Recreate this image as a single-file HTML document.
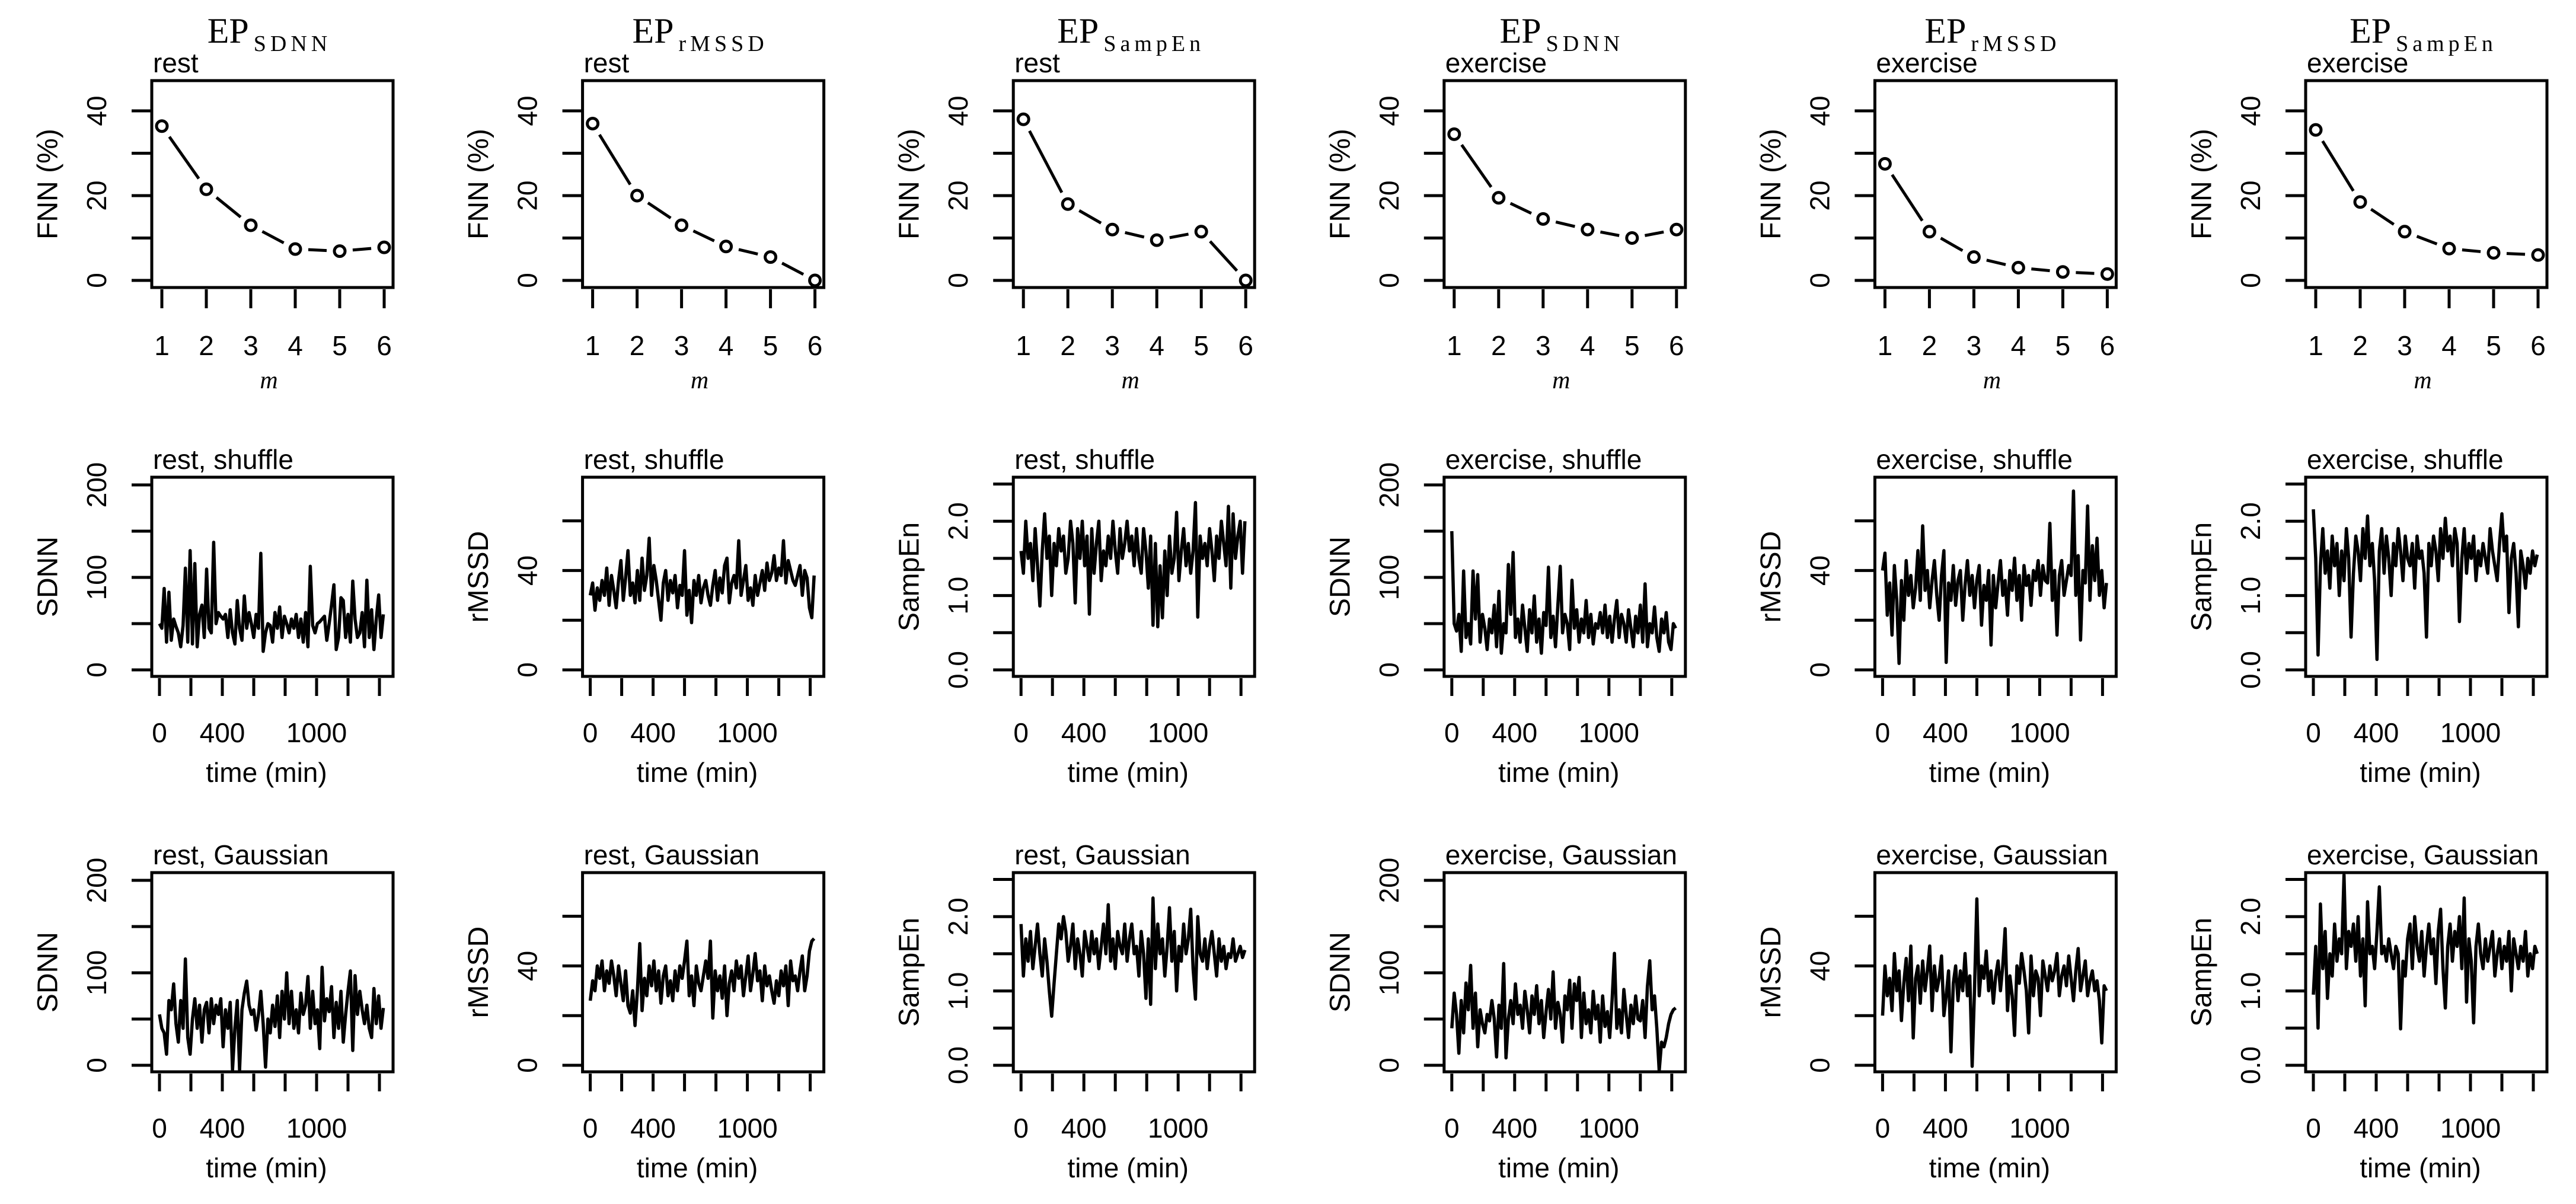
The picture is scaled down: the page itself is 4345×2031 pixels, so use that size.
<!DOCTYPE html>
<html><head><meta charset="utf-8"><title>FNN and surrogate time series</title>
<style>html,body{margin:0;padding:0;background:#fff}svg{display:block}text{font-family:"Liberation Sans",sans-serif;fill:#000}</style>
</head><body>
<svg id="fig" width="4345" height="2031" viewBox="0 0 4345 2031" xmlns="http://www.w3.org/2000/svg"></svg>
<script>
// ---- data ----
const titles = ["SDNN","rMSSD","SampEn","SDNN","rMSSD","SampEn"];
const states = ["rest","rest","rest","exercise","exercise","exercise"];
const mValues = [1,2,3,4,5,6];
const fnn0 = [36.4,21.5,13.0,7.4,6.9,7.8];
const fnn1 = [37,20,13,8,5.5,0];
const fnn2 = [38,18,12,9.5,11.5,0];
const fnn3 = [34.5,19.5,14.5,12,10,12];
const fnn4 = [27.5,11.5,5.5,3,2,1.5];
const fnn5 = [35.5,18.5,11.5,7.5,6.5,6];
const fnnTicks = [0,10,20,30,40];
const fnnLabels = ["0","","20","","40"];
const timeTicks = [0,200,400,600,800,1000,1200,1400];
const timeLabels = ["0","","400","","","1000","",""];
const timeStep = 15;
const sdnnTicks = [0,50,100,150,200], sdnnLabels = ["0","","100","","200"];
const rmssdTicks = [0,20,40,60], rmssdLabels = ["0","","40",""];
const sampTicks = [0,0.5,1,1.5,2,2.5], sampLabels = ["0.0","","1.0","","2.0",""];

const shufSdnnRest = [50,45,88,30,84,32,55,47,40,25,48,110,30,129,28,115,25,60,70,35,109,45,40,138,50,62,58,55,60,35,65,40,28,75,45,32,80,45,62,50,35,60,45,126,20,40,50,48,30,62,45,68,35,58,50,40,55,45,60,35,55,30,62,25,112,48,40,50,52,55,58,32,50,70,92,22,35,78,75,35,60,30,96,55,35,40,62,25,97,35,65,22,55,81,35,60];
const shufRmssdRest = [30,35,24,33,28,36,30,41,26,38,32,25,36,44,28,37,48,30,35,27,40,28,45,32,38,53,30,42,36,28,20,35,40,28,36,31,38,25,34,30,48,22,32,19,36,30,38,27,33,36,30,26,34,40,28,37,31,42,45,27,35,38,33,52,30,36,42,28,33,26,38,30,35,40,32,43,36,39,46,36,41,38,52,35,44,40,36,34,38,42,30,40,37,25,21,38];
const shufSampRest = [1.6,1.3,2.0,1.5,1.7,1.2,1.9,1.4,0.86,1.6,2.1,1.5,1.8,1.0,1.7,1.4,1.9,1.6,1.8,1.3,1.5,2.0,1.7,0.9,1.9,1.5,2.0,1.4,1.8,0.75,1.9,1.3,1.7,2.0,1.2,1.6,1.4,1.8,1.5,2.0,1.6,1.3,1.9,1.5,1.7,2.0,1.6,1.8,1.4,1.9,1.5,1.3,1.9,1.6,1.1,1.8,0.6,1.7,0.58,1.4,0.7,1.6,1.0,1.8,1.3,1.5,2.12,1.2,1.6,1.9,1.4,1.7,1.3,1.6,2.25,0.71,1.8,1.5,1.7,1.4,1.9,1.6,1.2,1.8,1.5,2.0,1.7,1.4,2.2,1.1,2.1,1.5,1.8,2.0,1.3,2.0];
const shufSdnnEx = [150,50,42,60,20,107,35,50,28,107,55,103,30,60,45,22,55,40,70,25,85,18,50,40,114,60,127,35,55,30,70,45,20,65,40,80,30,55,18,62,48,111,35,58,25,70,112,40,60,50,22,97,45,65,30,55,40,75,35,60,28,50,45,62,40,70,35,58,30,55,75,35,60,50,30,65,45,25,58,40,70,30,93,25,50,40,68,35,20,55,40,62,30,22,50,45];
const shufRmssdEx = [40,47,22,35,14,42,28,2.6,36,20,44,30,38,25,33,48,28,58,32,40,25,36,44,30,20,38,48,3,35,28,42,26,36,40,20,34,44,30,38,25,36,42,18,34,28,40,10,38,25,35,44,30,36,22,40,32,45,28,38,20,42,34,38,26,40,36,44,30,42,36,35,59,28,40,14,38,44,30,36,42,38,72,30,46,12,40,35,66,28,50,36,53,30,40,25,35];
const shufSampEx = [2.16,1.5,0.2,1.4,1.9,1.3,1.6,1.1,1.8,1.4,1.7,1.0,1.6,1.2,1.9,1.5,0.44,1.3,1.8,1.6,1.2,1.9,1.5,2.07,1.4,1.7,1.2,0.14,1.6,1.9,1.3,1.8,1.5,1.0,1.7,1.4,1.9,1.6,1.2,1.8,1.5,1.4,1.7,1.1,1.8,1.5,1.6,1.3,0.44,1.7,1.4,1.8,1.6,1.2,1.9,1.5,2.04,1.6,1.8,1.4,1.9,1.7,0.65,1.5,1.9,1.3,1.7,1.5,1.8,1.2,1.6,1.4,1.7,1.5,1.3,1.9,1.6,1.4,1.2,1.7,2.1,1.6,1.8,0.77,1.5,1.7,1.3,0.58,1.6,1.4,1.1,1.5,1.3,1.6,1.4,1.55];
const gausSdnnRest = [55,40,35,12,70,60,88,45,25,70,40,115,30,12,50,72,40,65,25,60,68,35,72,45,65,55,72,20,60,40,68,-5,40,70,-5,60,78,91,65,55,60,38,55,80,45,-2,50,35,65,42,75,30,80,50,100,45,80,40,60,35,78,55,65,96,40,80,45,60,18,106,48,72,58,85,30,68,40,80,25,55,80,102,16,97,55,80,60,45,65,40,30,83,45,75,40,62];
const gausRmssdRest = [26,34,30,40,35,42,30,38,33,42,36,28,40,33,26,38,24,21,30,16,30,49,22,35,28,40,32,42,30,38,25,36,40,28,34,26,38,30,40,35,42,50,28,36,24,40,33,30,36,42,35,50,19,38,30,36,27,40,20,33,38,30,42,35,40,28,36,44,30,37,45,34,38,26,40,32,36,30,25,34,28,38,32,40,24,42,34,36,30,38,44,30,36,46,50,51];
const gausSampRest = [1.9,1.2,1.7,1.4,1.8,1.3,1.6,1.9,1.5,1.2,1.7,1.4,1.0,0.66,1.1,1.5,1.9,1.7,2.0,1.8,1.4,1.6,1.9,1.3,1.7,1.5,1.2,1.8,1.6,1.4,1.8,1.5,1.7,1.3,1.6,1.9,1.5,2.16,1.4,1.7,1.3,1.8,1.6,1.5,1.9,1.4,1.7,1.9,1.5,1.6,1.2,1.8,1.5,0.9,1.7,0.82,2.25,1.3,1.9,1.5,1.7,1.2,1.6,2.12,1.4,1.8,1.0,1.6,1.4,1.9,1.5,1.7,2.1,1.3,0.89,2.0,1.5,1.4,1.7,1.3,1.6,1.8,1.5,1.2,1.7,1.4,1.6,1.3,1.5,1.45,1.7,1.4,1.5,1.6,1.45,1.55];
const gausSdnnEx = [40,78,55,13,70,35,89,60,108,40,78,20,60,45,35,55,48,70,50,9,65,40,110,8,50,70,45,88,55,65,40,80,60,35,75,55,86,45,70,30,58,82,50,101,40,68,55,25,75,60,92,40,88,70,95,30,78,45,60,35,80,50,65,25,75,42,58,30,70,121,40,60,35,82,55,30,65,45,75,50,48,70,30,85,113,60,75,40,-6,25,20,30,45,55,60,62];
const gausRmssdEx = [20,40,28,35,22,45,30,38,18,33,43,26,48,11,35,40,25,42,30,38,48,22,40,30,35,44,20,28,38,5.4,33,40,26,38,30,45,28,36,-0.4,30,67,28,40,35,46,30,38,25,36,42,30,40,55,22,36,28,12,40,33,45,38,30,13,44,28,38,35,20,42,36,30,40,34,38,45,28,36,40,32,44,35,26,38,47,30,36,42,28,34,38,30,34,26,9,32,30];
const gausSampEx = [0.95,1.6,0.5,2.17,1.3,1.8,0.9,1.5,1.2,1.9,1.4,1.7,1.5,2.56,1.3,1.8,1.6,1.9,1.4,2.0,1.2,1.7,0.8,2.2,1.5,1.6,1.3,1.8,2.4,1.5,1.6,1.4,1.7,1.5,1.3,1.6,1.5,0.49,1.4,1.2,1.7,1.9,1.3,2.0,1.6,1.4,1.8,1.2,1.6,1.9,1.5,1.7,1.1,1.8,2.1,1.3,0.77,1.6,1.9,1.4,1.8,1.6,2.0,1.3,2.25,0.85,1.7,1.4,0.57,1.6,1.9,1.5,1.3,1.7,1.4,1.6,1.8,1.2,1.5,1.7,1.3,1.6,1.4,1.8,1.0,1.7,1.5,1.3,1.6,1.4,1.8,1.2,1.5,1.3,1.6,1.5];

// ---- layout ----
const NS = "http://www.w3.org/2000/svg";
const svg = document.getElementById("fig");
const colLeft = c => 256 + c * 726.6;
const BW = 407;
const rowTop = [136, 805, 1472];
const rowBot = [485, 1141, 1808];
function mk(tag, attrs, parent) {
  const e = document.createElementNS(NS, tag);
  for (const k in attrs) e.setAttribute(k, attrs[k]);
  (parent || svg).appendChild(e);
  return e;
}
function txt(s, attrs, parent) { const t = mk("text", attrs, parent); t.textContent = s; return t; }

const fnnSeries = [fnn0, fnn1, fnn2, fnn3, fnn4, fnn5];
const shufSeries = [shufSdnnRest, shufRmssdRest, shufSampRest, shufSdnnEx, shufRmssdEx, shufSampEx];
const gausSeries = [gausSdnnRest, gausRmssdRest, gausSampRest, gausSdnnEx, gausRmssdEx, gausSampEx];
const axisInfo = {
  SDNN: {ticks: sdnnTicks, labels: sdnnLabels, scale: 1.56, lab: "SDNN"},
  rMSSD: {ticks: rmssdTicks, labels: rmssdLabels, scale: 4.19, lab: "rMSSD"},
  SampEn: {ticks: sampTicks, labels: sampLabels, scale: 125.4, lab: "SampEn"}
};

function yTicks(g, L, ticks, labels, yf) {
  ticks.forEach((t, i) => {
    const y = yf(t);
    const tk = mk("line", {x1: L - 34, x2: L, y1: y, y2: y, stroke: "#000", "stroke-width": 5}, g);
    
    
    if (labels[i]) {
      const tl = txt(labels[i], {x: 0, y: 0, "font-size": 46, "text-anchor": "middle", "dominant-baseline": "central", transform: `translate(${L - 93},${y}) rotate(-90)`}, g);
      
      
    }
  });
}
function box(g, L, top, bot) {
  const b = mk("rect", {x: L, y: top, width: BW, height: bot - top, fill: "none", stroke: "#000", "stroke-width": 5}, g);
  
  
}
function yTitle(g, L, top, bot, s) {
  const t = txt(s, {x: 0, y: 0, "font-size": 48, "text-anchor": "middle", "dominant-baseline": "central", transform: `translate(${L - 175},${(top + bot) / 2}) rotate(-90)`}, g);
  
  
}
function subtitle(g, L, top, s) {
  const t = txt(s, {x: L + 2, y: top - 14, "font-size": 46}, g);
  
  
}

// ---- row 0: FNN vs m ----
for (let c = 0; c < 6; c++) {
  const L = colLeft(c), top = rowTop[0], bot = rowBot[0];
  const g = mk("g", {});
  
  
  const xf = m => L + 17 + (m - 1) * 75;
  const yf = v => top + 337 - v * 7.15;
  const tt = mk("text", {x: L + BW / 2 - 5, y: 72, "text-anchor": "middle", style: "font-family:'Liberation Serif',serif"}, g);
  
  
  const t1 = mk("tspan", {"font-size": 60}, tt); t1.textContent = "EP";
  const t2 = mk("tspan", {"font-size": 38, dy: 14, dx: 8, "letter-spacing": 7}, tt); t2.textContent = titles[c];
  subtitle(g, L, top, states[c]);
  box(g, L, top, bot);
  yTicks(g, L, fnnTicks, fnnLabels, yf);
  yTitle(g, L, top, bot, "FNN (%)");
  mValues.forEach(m => {
    const x = xf(m);
    const tk = mk("line", {x1: x, x2: x, y1: bot + 3, y2: bot + 35, stroke: "#000", "stroke-width": 5}, g);
    
    
    const tl = txt(String(m), {x: x, y: bot + 98, "font-size": 46, "text-anchor": "middle", "dominant-baseline": "central"}, g);
    
    
  });
  const xl = txt("m", {x: L + BW / 2 - 6, y: 655, "font-size": 42, "text-anchor": "middle", style: "font-family:'Liberation Serif',serif;font-style:italic"}, g);
  
  
  const vals = fnnSeries[c];
  for (let i = 0; i < vals.length - 1; i++) {
    const x1 = xf(mValues[i]), y1 = yf(vals[i]), x2 = xf(mValues[i + 1]), y2 = yf(vals[i + 1]);
    const d = Math.hypot(x2 - x1, y2 - y1), gap = 22;
    if (d > 2 * gap) {
      const ux = (x2 - x1) / d, uy = (y2 - y1) / d;
      const seg = mk("line", {x1: x1 + ux * gap, y1: y1 + uy * gap, x2: x2 - ux * gap, y2: y2 - uy * gap, stroke: "#000", "stroke-width": 5}, g);
      
      
    }
  }
  vals.forEach((v, i) => {
    const p = mk("circle", {cx: xf(mValues[i]), cy: yf(v), r: 9, fill: "none", stroke: "#000", "stroke-width": 5}, g);
    
    
  });
}

// ---- rows 1,2: time series ----
for (let r = 1; r <= 2; r++) {
  for (let c = 0; c < 6; c++) {
    const L = colLeft(c), top = rowTop[r], bot = rowBot[r];
    const info = axisInfo[titles[c]];
    const g = mk("g", {});
    
    
    const xf = t => L + 13 + t * 0.265;
    const yf = v => top + 325 - v * info.scale;
    subtitle(g, L, top, states[c] + (r === 1 ? ", shuffle" : ", Gaussian"));
    yTicks(g, L, info.ticks, info.labels, yf);
    yTitle(g, L, top, bot, info.lab);
    timeTicks.forEach((t, i) => {
      const x = xf(t);
      const tk = mk("line", {x1: x, x2: x, y1: bot + 3, y2: bot + 33, stroke: "#000", "stroke-width": 5}, g);
      
      
      if (timeLabels[i]) {
        const tl = txt(timeLabels[i], {x: x, y: top + 431, "font-size": 46, "text-anchor": "middle", "dominant-baseline": "central"}, g);
        
        
      }
    });
    const xl = txt("time (min)", {x: L + BW / 2 - 10, y: top + 498, "font-size": 46, "text-anchor": "middle", "dominant-baseline": "central"}, g);
    
    
    const vals = r === 1 ? shufSeries[c] : gausSeries[c];
    const pts = vals.map((v, i) => xf(i * timeStep).toFixed(1) + "," + yf(v).toFixed(1)).join(" ");
    const pl = mk("polyline", {points: pts, fill: "none", stroke: "#000", "stroke-width": 5.5, "stroke-linejoin": "round"}, g);
    
    
    box(g, L, top, bot);
  }
}
</script>
</body></html>
